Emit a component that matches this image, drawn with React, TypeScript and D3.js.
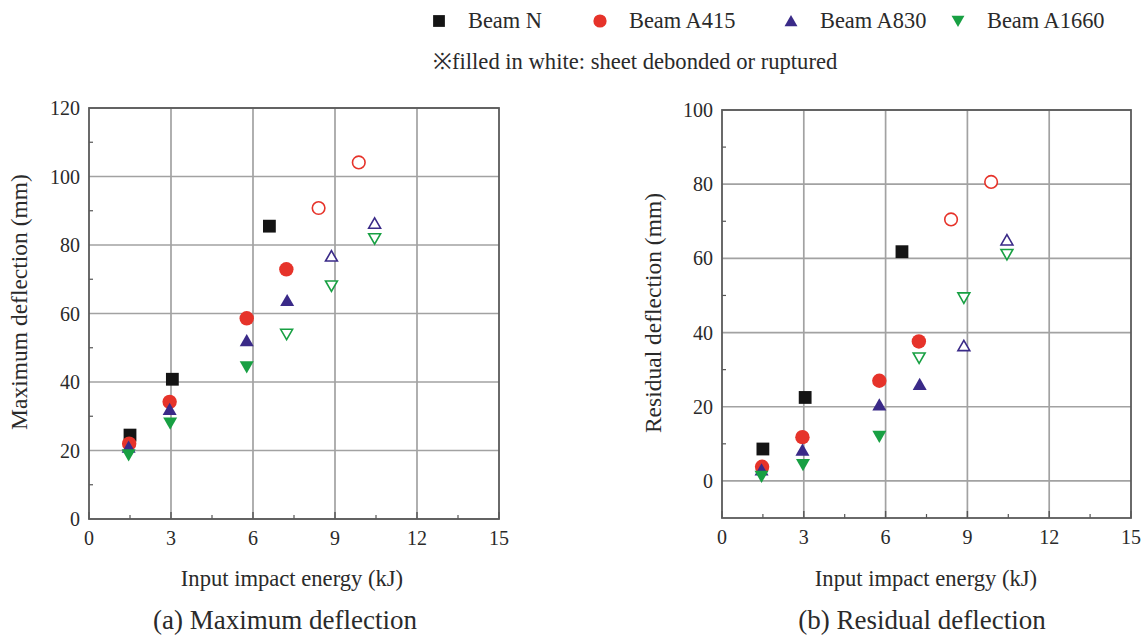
import React from "react";
import * as d3 from "d3";

const seriesNames = ["Beam N", "Beam A415", "Beam A830", "Beam A1660"];
const seriesColors = ["#141414", "#e6332a", "#3a2a88", "#18a043"];
const seriesShapes = ["square", "circle", "triangle", "down"];

// energies (kJ)
const energyN = [1.5, 3.05, 6.6];
const energyA415 = [1.47, 2.95, 5.77, 7.22, 8.4, 9.87];
const energyA830 = [1.45, 2.95, 5.77, 7.25, 8.87, 10.45];
const energyA1660 = [1.45, 2.97, 5.77, 7.23, 8.87, 10.45];

// maximum deflection (mm)
const maxN = [24.5, 40.8, 85.5];
const maxA415 = [22, 34.2, 58.6, 72.9, 90.8, 104.1];
const maxA830 = [21, 32, 52.1, 63.8, 76.7, 86.3];
const maxA1660 = [18.7, 28, 44.4, 54, 68.1, 81.9];

// residual deflection (mm)
const resN = [8.6, 22.5, 61.8];
const resA415 = [3.8, 11.8, 27, 37.6, 70.5, 80.6];
const resA830 = [3, 8.3, 20.5, 26, 36.4, 64.9];
const resA1660 = [1.2, 4.4, 12, 33.2, 49.4, 61.1];

// hollow = sheet debonded or ruptured
const hollowN = [false, false, false];
const hollowA415 = [false, false, false, false, true, true];
const hollowA830 = [false, false, false, false, true, true];
const hollowA1660 = [false, false, false, true, true, true];

const xTicks = [0, 3, 6, 9, 12, 15];
const yTicksMax = [0, 20, 40, 60, 80, 100, 120];
const yTicksRes = [0, 20, 40, 60, 80, 100];

const energies = [energyN, energyA415, energyA830, energyA1660];
const maxVals = [maxN, maxA415, maxA830, maxA1660];
const resVals = [resN, resA415, resA830, resA1660];
const hollows = [hollowN, hollowA415, hollowA830, hollowA1660];

const FONT = "'Liberation Serif', 'Times New Roman', serif";
const TXT = "#2a2a2a";

function Marker({ shape, x, y, color, hollow, size = 1 }: any) {
  const fill = hollow ? "#fff" : color;
  const stroke = color;
  const sw = hollow ? 1.6 : 0;
  const s = hollow ? 0.85 * size : size;
  if (shape === "square") {
    const h = 6.4 * s;
    return <rect x={x - h} y={y - h} width={2 * h} height={2 * h} fill={fill} stroke={stroke} strokeWidth={sw} />;
  }
  if (shape === "circle") {
    return <circle cx={x} cy={y} r={(hollow ? 7.4 : 7.2) * s} fill={fill} stroke={stroke} strokeWidth={sw} />;
  }
  if (shape === "triangle") {
    const w = 7 * s, h = 6.6 * s;
    const p = `${x},${y - h} ${x + w},${y + h * 0.85} ${x - w},${y + h * 0.85}`;
    return <polygon points={p} fill={fill} stroke={stroke} strokeWidth={sw} strokeLinejoin="miter" />;
  }
  const w = 7 * s, h = 6.6 * s;
  const p = `${x},${y + h} ${x + w},${y - h * 0.85} ${x - w},${y - h * 0.85}`;
  return <polygon points={p} fill={fill} stroke={stroke} strokeWidth={sw} strokeLinejoin="miter" />;
}

function Panel({ left, right, top, bottom, yDomain, yTicks, yMinor, values, yTitle, caption, titleX, titleY, xTitleX, captionX }: any) {
  const x = d3.scaleLinear().domain([0, 15]).range([left, right]);
  const y = d3.scaleLinear().domain(yDomain).range([bottom, top]);
  const xMinor = d3.range(1.5, 15, 3);
  const gridColor = "#a2a2a2";
  return (
    <g>
      {xTicks.slice(1, -1).map((t) => (
        <line key={"gx" + t} x1={x(t)} x2={x(t)} y1={top} y2={bottom} stroke={gridColor} strokeWidth={1.7} />
      ))}
      {yTicks.map((t: number) => (
        <line key={"gy" + t} x1={left} x2={right} y1={y(t)} y2={y(t)} stroke={gridColor} strokeWidth={1.7} />
      ))}
      {xMinor.map((t: number) => (
        <line key={"mx" + t} x1={x(t)} x2={x(t)} y1={bottom} y2={bottom - 4} stroke="#555" strokeWidth={1.2} />
      ))}
      {xTicks.map((t) => (
        <line key={"tx" + t} x1={x(t)} x2={x(t)} y1={bottom} y2={bottom - 7} stroke="#555" strokeWidth={1.4} />
      ))}
      {yMinor.map((t: number) => (
        <line key={"my" + t} x1={left} x2={left + 4} y1={y(t)} y2={y(t)} stroke="#555" strokeWidth={1.2} />
      ))}
      <rect x={left} y={top} width={right - left} height={bottom - top} fill="none" stroke="#5a5a5a" strokeWidth={1.8} />
      {xTicks.map((t) => (
        <text key={"lx" + t} x={x(t)} y={bottom + 26} textAnchor="middle" fontSize={20} fontFamily={FONT} fill={TXT}>
          {t}
        </text>
      ))}
      {yTicks.map((t: number) => (
        <text key={"ly" + t} x={left - 9} y={y(t) + 7} textAnchor="end" fontSize={20} fontFamily={FONT} fill={TXT}>
          {t}
        </text>
      ))}
      <text x={xTitleX} y={586} textAnchor="middle" fontSize={22.6} fontFamily={FONT} fill={TXT}>
        Input impact energy (kJ)
      </text>
      <text x={captionX} y={629} textAnchor="middle" fontSize={27} fontFamily={FONT} fill={TXT}>
        {caption}
      </text>
      <text
        transform={`translate(${titleX},${titleY}) rotate(-90)`}
        textAnchor="middle"
        fontSize={23.5}
        fontFamily={FONT}
        fill={TXT}
      >
        {yTitle}
      </text>
      {values.map((vals: number[], si: number) =>
        vals.map((v: number, i: number) => (
          <Marker
            key={si + "-" + i}
            shape={seriesShapes[si]}
            x={x(energies[si][i])}
            y={y(v)}
            color={seriesColors[si]}
            hollow={hollows[si][i]}
          />
        ))
      )}
    </g>
  );
}

export default function App() {
  const legendX = [439, 600, 791, 958];
  return (
    <svg width={1145} height={640} style={{ position: "absolute", left: 0, top: 0, background: "#fff" }}>
      <rect width={1145} height={640} fill="#fff" />
      {seriesNames.map((n, i) => (
        <g key={n}>
          <Marker shape={seriesShapes[i]} x={legendX[i]} y={21} color={seriesColors[i]} hollow={false} size={0.92} />
          <text x={legendX[i] + 29} y={28} fontSize={22.4} fontFamily={FONT} fill={TXT}>
            {n}
          </text>
        </g>
      ))}
      <text x={433} y={69} fontSize={22.6} fontFamily={FONT} fill={TXT}>
        ※filled in white: sheet debonded or ruptured
      </text>
      <Panel
        left={89}
        right={499}
        top={108}
        bottom={519}
        yDomain={[0, 120]}
        yTicks={yTicksMax}
        yMinor={d3.range(10, 120, 20)}
        values={maxVals}
        yTitle="Maximum deflection (mm)"
        caption="(a) Maximum deflection"
        titleX={27}
        titleY={302}
        xTitleX={292}
        captionX={285}
      />
      <Panel
        left={722}
        right={1131}
        top={110}
        bottom={518}
        yDomain={[-10, 100]}
        yTicks={yTicksRes}
        yMinor={d3.range(10, 100, 20)}
        values={resVals}
        yTitle="Residual deflection (mm)"
        caption="(b) Residual deflection"
        titleX={661}
        titleY={313}
        xTitleX={926}
        captionX={922}
      />
    </svg>
  );
}
